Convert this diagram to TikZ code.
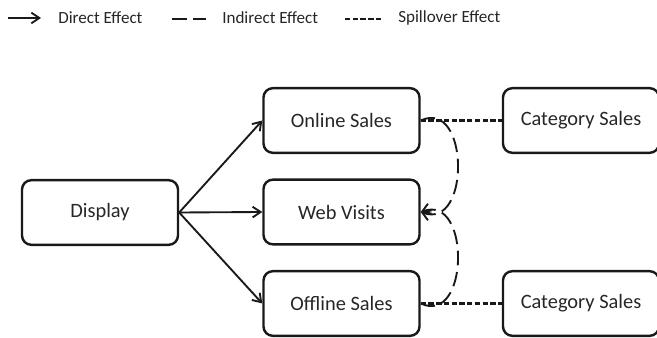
\documentclass[tikz,border=0pt]{standalone}
\usepackage{fontspec}
\setmainfont{Carlito}
\usetikzlibrary{arrows.meta}

\begin{document}
\begin{tikzpicture}[x=0.75pt,y=0.75pt,yscale=-1,xscale=1,
  box/.style={draw=black!90,line width=1.8pt,rounded corners=7pt,minimum width=117pt,minimum height=48.5pt,font=\fontsize{15.3}{18}\selectfont,text=black!85},
  legend/.style={anchor=west,inner sep=0pt,font=\fontsize{12.8}{15}\selectfont,text=black!85},
  direct/.style={draw=black!90,line width=1.4pt,-{Straight Barb[length=6pt,width=8pt]}},
  indirect/.style={draw=black!90,line width=1.4pt,dash pattern=on 11pt off 5pt},
  spill/.style={draw=black!90,line width=1.6pt,dash pattern=on 4pt off 1.8pt}]
\useasboundingbox (0,0) rectangle (657,338);

% Legend
\coordinate (d1) at (8,18);
\coordinate (d2) at (41,18);
\draw [direct] (d1) -- (d2);
\draw (58,18) node [legend] (ldirect) {Direct Effect};
\coordinate (i1) at (172,19);
\coordinate (i2) at (206,19);
\draw [indirect] (i1) -- (i2);
\draw (222,18) node [legend] (lindirect) {Indirect Effect};
\coordinate (s1) at (345,19);
\coordinate (s2) at (381,19);
\draw [spill] (s1) -- (s2);
\draw (398,18) node [legend] (lspill) {Spillover Effect};

% Boxes
\draw (100,212.5) node [box] (display) {Display};
\draw (341.5,120.5) node [box] (online) {Online Sales};
\draw (341.5,212) node [box] (web) {Web Visits};
\draw (341.5,303.5) node [box] (offline) {Offline Sales};
\draw (581,120.5) node [box] (cat1) {Category Sales};
\draw (581,303.5) node [box] (cat2) {Category Sales};

% Direct effects
\draw [direct] (display.east) -- (online.west);
\draw [direct] (display.east) -- (web.west);
\draw [direct] (display.east) -- (offline.west);

% Indirect effects
\draw [indirect,-{Straight Barb[length=6pt,width=8pt]}] (online.east) to[out=-25,in=20,looseness=1.5] (web.east);
\draw [indirect,-{Straight Barb[length=6pt,width=8pt]}] (offline.east) to[out=25,in=-20,looseness=1.5] (web.east);

% Spillover effects
\draw [spill] (online.east) -- (cat1.west);
\draw [spill] (offline.east) -- (cat2.west);

\end{tikzpicture}
\end{document}
